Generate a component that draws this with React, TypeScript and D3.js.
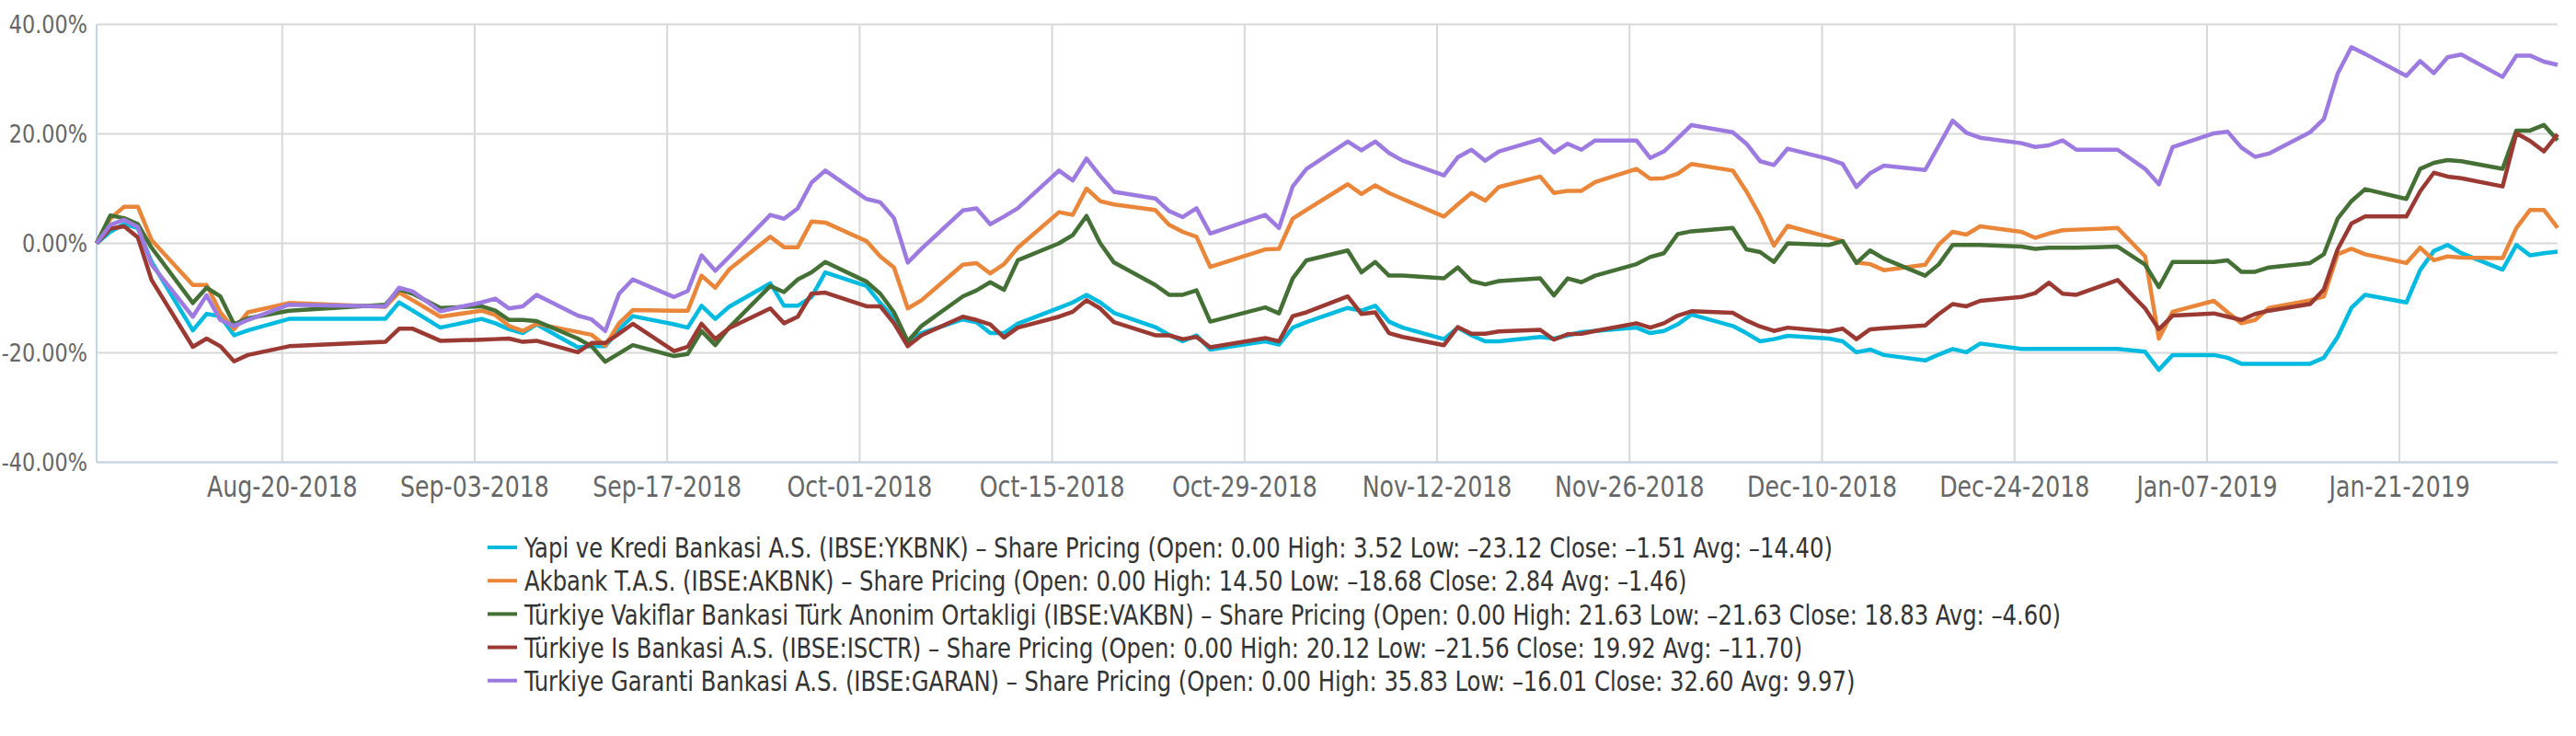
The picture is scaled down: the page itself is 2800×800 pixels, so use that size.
import React from "react";
import * as d3 from "d3";

const dates = [
  "2018-08-06","2018-08-07","2018-08-08","2018-08-09","2018-08-10",
  "2018-08-13","2018-08-14","2018-08-15","2018-08-16","2018-08-17",
  "2018-08-20","2018-08-27","2018-08-28","2018-08-29","2018-08-31",
  "2018-09-03","2018-09-04","2018-09-05","2018-09-06","2018-09-07",
  "2018-09-10","2018-09-11","2018-09-12","2018-09-13","2018-09-14",
  "2018-09-17","2018-09-18","2018-09-19","2018-09-20","2018-09-21",
  "2018-09-24","2018-09-25","2018-09-26","2018-09-27","2018-09-28",
  "2018-10-01","2018-10-02","2018-10-03","2018-10-04","2018-10-05",
  "2018-10-08","2018-10-09","2018-10-10","2018-10-11","2018-10-12",
  "2018-10-15","2018-10-16","2018-10-17","2018-10-18","2018-10-19",
  "2018-10-22","2018-10-23","2018-10-24","2018-10-25","2018-10-26",
  "2018-10-30","2018-10-31","2018-11-01","2018-11-02",
  "2018-11-05","2018-11-06","2018-11-07","2018-11-08","2018-11-09",
  "2018-11-12","2018-11-13","2018-11-14","2018-11-15","2018-11-16",
  "2018-11-19","2018-11-20","2018-11-21","2018-11-22","2018-11-23",
  "2018-11-26","2018-11-27","2018-11-28","2018-11-29","2018-11-30",
  "2018-12-03","2018-12-04","2018-12-05","2018-12-06","2018-12-07",
  "2018-12-10","2018-12-11","2018-12-12","2018-12-13","2018-12-14",
  "2018-12-17","2018-12-18","2018-12-19","2018-12-20","2018-12-21",
  "2018-12-24","2018-12-25","2018-12-26","2018-12-27","2018-12-28",
  "2018-12-31","2019-01-02","2019-01-03","2019-01-04",
  "2019-01-07","2019-01-08","2019-01-09","2019-01-10","2019-01-11",
  "2019-01-14","2019-01-15","2019-01-16","2019-01-17","2019-01-18",
  "2019-01-21","2019-01-22","2019-01-23","2019-01-24","2019-01-25",
  "2019-01-28","2019-01-29","2019-01-30","2019-01-31","2019-02-01",
];

const ykbnk = [
  0, 2.1, 3.52, 2.8, -3.4,
  -15.9, -12.9, -13.3, -16.8, -15.9,
  -13.8, -13.8, -10.8, -12.3, -15.4,
  -13.8, -14.6, -15.7, -16.4, -14.8,
  -19.0, -18.8, -18.8, -15.7, -13.3,
  -14.8, -15.4, -11.4, -13.8, -11.6,
  -7.3, -11.4, -11.4, -9.8, -5.3,
  -7.8, -10.9, -13.7, -17.9, -16.4,
  -13.9, -14.4, -16.4, -16.4, -14.7,
  -11.8, -10.8, -9.4, -10.8, -12.7,
  -15.3, -16.7, -17.9, -16.8, -19.4,
  -17.9, -18.5, -15.4, -14.4,
  -11.8, -12.3, -11.4, -14.3, -15.4,
  -17.5, -15.4, -16.8, -17.9, -17.9,
  -17.1, -17.4, -16.8, -16.2, -16.0,
  -15.4, -16.4, -16.0, -14.8, -13.0,
  -15.1, -16.4, -17.9, -17.5, -16.9,
  -17.4, -17.9, -19.9, -19.4, -20.4,
  -21.4, -20.3, -19.3, -19.9, -18.3,
  -19.3, -19.3, -19.3, -19.3, -19.3,
  -19.3, -19.8, -23.12, -20.4,
  -20.4, -20.9, -22.0, -22.0, -22.0,
  -22.0, -20.9, -17.1, -11.8, -9.4,
  -10.8, -4.9, -1.4, -0.3, -1.8,
  -4.8, -0.3, -2.2, -1.8, -1.51,
];

const akbnk = [
  0, 4.5, 6.7, 6.7, 0.6,
  -7.6, -7.6, -12.6, -15.7, -12.6,
  -10.9, -11.6, -9.0, -10.4, -13.4,
  -12.3, -13.1, -15.1, -16.0, -14.7,
  -16.2, -16.7, -18.68, -14.6, -12.2,
  -12.3, -12.3, -5.9, -8.1, -4.8,
  1.2, -0.7, -0.7, 4.0, 3.8,
  0.4, -2.4, -4.4, -11.9, -10.4,
  -3.9, -3.6, -5.5, -3.8, -0.8,
  5.7, 5.2, 10.0, 7.7, 7.1,
  6.1, 3.4, 2.1, 1.2, -4.3,
  -1.1, -1.0, 4.5, 6.1,
  10.8, 9.0, 10.6, 9.2, 8.1,
  4.9, 7.1, 9.2, 7.8, 10.3,
  12.2, 9.2, 9.6, 9.6, 11.2,
  13.6, 11.8, 11.9, 12.7, 14.5,
  13.3, 9.5, 5.0, -0.4, 3.2,
  1.1, 0.4, -3.5, -3.8, -4.9,
  -3.9, -0.2, 2.1, 1.6, 3.1,
  2.1, 1.0, 1.8, 2.4, 2.5,
  2.8, -2.4, -17.4, -12.5,
  -10.5, -12.6, -14.6, -14.0, -11.8,
  -10.4, -9.7, -2.0, -1.0, -2.0,
  -3.6, -0.8, -3.1, -2.4, -2.6,
  -2.7, 2.8, 6.1, 6.1, 2.84,
];

const vakbn = [
  0, 5.1, 4.6, 3.5, -0.8,
  -10.9, -8.1, -9.7, -14.8, -13.7,
  -12.3, -11.2, -8.4, -9.2, -11.8,
  -11.5, -12.3, -14.0, -14.0, -14.2,
  -17.4, -18.8, -21.63, -20.1, -18.6,
  -20.6, -20.2, -16.0, -18.6, -15.4,
  -7.8, -8.9, -6.6, -5.3, -3.4,
  -7.0, -9.2, -12.6, -17.9, -15.1,
  -9.7, -8.6, -7.1, -8.5, -3.1,
  0.0, 1.5, 5.0, 0.0, -3.5,
  -7.6, -9.4, -9.4, -8.6, -14.3,
  -11.7, -12.8, -6.4, -3.1,
  -1.3, -5.3, -3.4, -5.9, -5.9,
  -6.4, -4.4, -6.9, -7.5, -6.9,
  -6.4, -9.5, -6.4, -7.1, -5.9,
  -3.8, -2.5, -1.8, 1.7, 2.2,
  2.8, -1.1, -1.6, -3.4, 0.0,
  -0.3, 0.4, -3.6, -1.3, -2.8,
  -5.9, -3.8, -0.3, -0.3, -0.3,
  -0.6, -1.0, -0.8, -0.8, -0.8,
  -0.6, -3.9, -8.0, -3.4,
  -3.4, -3.1, -5.2, -5.2, -4.4,
  -3.6, -2.0, 4.5, 7.7, 9.9,
  8.1, 13.6, 14.7, 15.2, 15.0,
  13.6, 20.6, 20.6, 21.63, 18.83,
];

const isctr = [
  0, 2.7, 3.1, 1.1, -6.7,
  -18.9, -17.4, -18.8, -21.56, -20.4,
  -18.8, -18.0, -15.6, -15.6, -17.8,
  -17.6, -17.5, -17.4, -18.0, -17.8,
  -19.9, -18.2, -18.2, -16.5, -14.7,
  -19.7, -18.9, -14.7, -17.5, -15.5,
  -11.9, -14.6, -13.4, -9.2, -9.0,
  -11.5, -11.5, -14.6, -18.8, -16.8,
  -13.4, -14.0, -14.8, -17.2, -15.4,
  -13.4, -12.5, -10.4, -11.9, -14.4,
  -16.8, -16.8, -17.5, -17.1, -19.0,
  -17.3, -17.9, -13.3, -12.6,
  -9.7, -12.9, -12.6, -16.4, -17.1,
  -18.6, -15.3, -16.5, -16.5, -16.1,
  -15.8, -17.6, -16.6, -16.5, -16.0,
  -14.6, -15.4, -14.6, -13.2, -12.4,
  -12.7, -14.1, -15.2, -16.0, -15.4,
  -16.1, -15.6, -17.5, -15.7, -15.5,
  -15.0, -12.9, -11.1, -11.5, -10.5,
  -9.8, -9.1, -7.2, -9.2, -9.4,
  -6.7, -11.9, -15.7, -13.2,
  -12.8, -13.4, -14.0, -12.9, -12.3,
  -11.1, -8.4, -1.1, 3.6, 4.9,
  4.9, 9.5, 12.9, 12.2, 11.9,
  10.4, 20.12, 18.7, 16.8, 19.92,
];

const garan = [
  0, 3.4, 4.3, 3.0, -3.9,
  -13.4, -9.5, -14.0, -15.1, -14.0,
  -11.2, -11.5, -8.1, -8.8, -12.4,
  -10.8, -10.1, -11.9, -11.5, -9.4,
  -13.2, -13.9, -16.01, -9.2, -6.6,
  -9.8, -8.7, -2.2, -5.0, -2.5,
  5.2, 4.5, 6.4, 11.1, 13.3,
  8.1, 7.5, 4.6, -3.5, -1.0,
  6.0, 6.4, 3.5, 4.9, 6.4,
  13.3, 11.5, 15.5, 12.3, 9.4,
  8.2, 5.9, 4.8, 6.4, 1.8,
  5.2, 2.8, 10.4, 13.6,
  18.6, 17.0, 18.6, 16.5, 15.1,
  12.4, 15.7, 17.1, 15.1, 16.8,
  19.0, 16.6, 18.2, 17.1, 18.8,
  18.8, 15.6, 16.8, 19.2, 21.6,
  20.3, 18.2, 15.0, 14.3, 17.3,
  15.4, 14.5, 10.3, 12.8, 14.2,
  13.4, 17.9, 22.4, 20.2, 19.3,
  18.3, 17.6, 17.9, 18.8, 17.1,
  17.1, 13.6, 10.8, 17.6,
  20.1, 20.4, 17.5, 15.8, 16.4,
  20.3, 22.7, 31.0, 35.83, 34.6,
  30.6, 33.3, 31.1, 34.0, 34.5,
  30.4, 34.3, 34.3, 33.2, 32.6,
];

const seriesNames = [
  "Yapi ve Kredi Bankasi A.S. (IBSE:YKBNK) – Share Pricing (Open: 0.00 High: 3.52 Low: –23.12 Close: –1.51 Avg: –14.40)",
  "Akbank T.A.S. (IBSE:AKBNK) – Share Pricing (Open: 0.00 High: 14.50 Low: –18.68 Close: 2.84 Avg: –1.46)",
  "Türkiye Vakiflar Bankasi Türk Anonim Ortakligi (IBSE:VAKBN) – Share Pricing (Open: 0.00 High: 21.63 Low: –21.63 Close: 18.83 Avg: –4.60)",
  "Türkiye Is Bankasi A.S. (IBSE:ISCTR) – Share Pricing (Open: 0.00 High: 20.12 Low: –21.56 Close: 19.92 Avg: –11.70)",
  "Turkiye Garanti Bankasi A.S. (IBSE:GARAN) – Share Pricing (Open: 0.00 High: 35.83 Low: –16.01 Close: 32.60 Avg: 9.97)",
];
const seriesValues = [ykbnk, akbnk, vakbn, isctr, garan];
const seriesColors = ["#00bbdf", "#e9863a", "#447035", "#9a3a33", "#9c7ae0"];

const yTicks = [40, 20, 0, -20, -40];
const xTickDates = [
  "2018-08-20","2018-09-03","2018-09-17","2018-10-01","2018-10-15","2018-10-29",
  "2018-11-12","2018-11-26","2018-12-10","2018-12-24","2019-01-07","2019-01-21",
];

const FONT = "'Liberation Sans Narrow', 'DejaVu Sans Condensed', 'Roboto', sans-serif";

const parse = (s: string, hour: number) => {
  const [y, m, d] = s.split("-").map(Number);
  return new Date(Date.UTC(y, m - 1, d, hour));
};
const fmtTick = (s: string) => d3.utcFormat("%b-%d-%Y")(parse(s, 0));
const fmtPct = (t: number) => d3.format(".2f")(t).replace("\u2212", "-") + "%";

export default function App() {
  const W = 2800, H = 800;
  const left = 105, right = 2780, top = 26.5, bottom = 502.5;
  const x = d3.scaleUtc()
    .domain([parse("2018-08-06", 12), parse("2019-02-01", 12)])
    .range([left, right]);
  const y = d3.scaleLinear().domain([-40, 40]).range([bottom, top]);
  const line = d3.line<[Date, number]>()
    .x((d) => x(d[0]))
    .y((d) => y(d[1]));

  const legendY0 = 595, legendStep = 36.2, legendX = 530;

  return (
    <svg width={W} height={H} style={{ position: "absolute", left: 0, top: 0, background: "#fff" }}
      fontFamily={FONT}>
      <rect x={0} y={0} width={W} height={H} fill="#fff" />
      {yTicks.map((t) => (
        <line key={"h" + t} x1={left} x2={right} y1={y(t)} y2={y(t)} stroke="#d8d8d8" strokeWidth={2} />
      ))}
      {xTickDates.map((s) => (
        <line key={"v" + s} x1={x(parse(s, 0))} x2={x(parse(s, 0))} y1={top} y2={bottom} stroke="#d8d8d8" strokeWidth={2} />
      ))}
      <line x1={left} x2={left} y1={top} y2={bottom} stroke="#c5d3e2" strokeWidth={2} />
      <line x1={left} x2={right} y1={bottom} y2={bottom} stroke="#c5d3e2" strokeWidth={2} />
      {yTicks.map((t) => (
        <text key={"yl" + t} transform={`translate(95,${y(t)}) scale(0.92,1)`} dy="0.36em"
          textAnchor="end" fontSize={27} fill="#666">
          {fmtPct(t)}
        </text>
      ))}
      {xTickDates.map((s) => (
        <text key={"xl" + s} transform={`translate(${x(parse(s, 0))},528) scale(0.875,1)`} dy="0.36em"
          textAnchor="middle" fontSize={32} fill="#666">
          {fmtTick(s)}
        </text>
      ))}
      {seriesValues.map((vals, i) => (
        <path key={"s" + i}
          d={line(dates.map((s, k) => [parse(s, 12), vals[k]] as [Date, number])) || ""}
          fill="none" stroke={seriesColors[i]} strokeWidth={4.5} strokeLinejoin="round" />
      ))}
      {seriesNames.map((n, i) => (
        <g key={"lg" + i} transform={`translate(${legendX},${legendY0 + i * legendStep})`}>
          <line x1={0} x2={32} y1={0} y2={0} stroke={seriesColors[i]} strokeWidth={4} />
          <text transform="translate(40,0) scale(0.871,1)" dy="0.36em" fontSize={31} fill="#333">{n}</text>
        </g>
      ))}
    </svg>
  );
}
